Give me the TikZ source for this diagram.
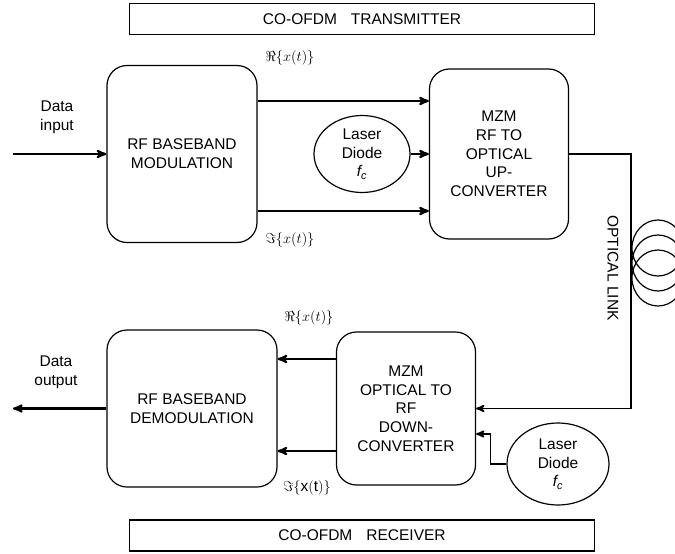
\documentclass[tikz,border=0pt]{standalone}
\usepackage{amsmath}
\usepackage{fontspec}
\setmainfont{Liberation Sans}
\usepackage{tikz}
\usetikzlibrary{arrows,shapes.geometric}
\usetikzlibrary{calc}
\usetikzlibrary{positioning}

\begin{document}
\begin{tikzpicture}[x=1pt,y=-1pt,>=stealth',semithick,font=\fontsize{15.5}{18.7}\selectfont]
 \tikzstyle{block}=[draw=black,line width=1.2pt,rounded corners=20pt,align=center]
 \tikzstyle{laser}=[ellipse,draw=black,line width=1.2pt,align=center,inner sep=0pt]
 \tikzstyle{title}=[draw=black,line width=1.2pt,minimum width=465pt,minimum height=31pt]
 \tikzstyle{signal}=[->,line width=2.2pt]
 \useasboundingbox (0,0) rectangle (675,554);

 % transmitter
 \node[title] (txtitle) at (362,19) {CO-OFDM\hspace{14pt}TRANSMITTER};
 \node[block,minimum width=150pt,minimum height=177pt] (mod) at (182,154) {RF BASEBAND\\MODULATION};
 \node[block,minimum width=139pt,minimum height=170pt] (upconv) [right of=mod, node distance=317pt] {MZM\\RF TO\\OPTICAL\\UP-\\CONVERTER};
 \node[laser,minimum width=96pt,minimum height=77pt] (ld1) [right of=mod, node distance=180pt] {Laser\\Diode\\{\itshape f\textsubscript{c}}};

 % receiver
 \node[block,minimum width=139pt,minimum height=153pt] (downconv) at (406,408.5) {MZM\\OPTICAL TO\\RF\\DOWN-\\CONVERTER};
 \node[block,minimum width=170pt,minimum height=157pt] (demod) [left of=downconv, node distance=214pt] {RF BASEBAND\\DEMODULATION};
 \node[laser,minimum width=102pt,minimum height=82pt] (ld2) at (558,464) {Laser\\Diode\\{\itshape f\textsubscript{c}}};
 \node[title] (rxtitle) at (362,535.5) {CO-OFDM\hspace{14pt}RECEIVER};

 % data in and out
 \coordinate (datain) at (13,154);
 \coordinate (dataout) at (13,408.5);
 \node[align=center] (inlabel) at (57,117) {Data\\input};
 \node[align=center] (outlabel) at (56,372) {Data\\output};
 \draw[signal] (datain) -- (mod);
 \draw[signal] (demod) -- (dataout);

 % I/Q branches
 \draw[signal] ([yshift=53pt]mod.east) -- ([yshift=53pt]mod.east -| upconv.west);
 \draw[signal] ([yshift=-57pt]mod.east) -- ([yshift=-57pt]mod.east -| upconv.west);
 \draw[signal] (ld1) -- (ld1 -| upconv.west);
 \draw[signal] ([yshift=49.5pt]downconv.west) -- ([yshift=49.5pt]downconv.west -| demod.east);
 \draw[signal] ([yshift=-42.5pt]downconv.west) -- ([yshift=-42.5pt]downconv.west -| demod.east);
 \node (retx) at (290,58) {$\Re\{x(t)\}$};
 \node (imtx) at (290,240) {$\Im\{x(t)\}$};
 \node (rerx) at (309,318) {$\Re\{x(t)\}$};
 \node (imrx) at (307,488) {$\Im\{\mathrm{x(t)}\}$};

 % optical link with fibre coil
 \coordinate (bend) at (631,268);
 \draw[->,line width=1.8pt] (upconv.east) -| (bend) |- (downconv.east);
 \draw[->,line width=1.8pt] (ld2.west) -- ++(-16,0) |- ([yshift=-25.5pt]downconv.east);
 \foreach \cy in {248,263,278}
   \draw[line width=1.2pt] (658,\cy) ellipse (26 and 28);
 \node[rotate=-90] (linklabel) at (613,268) {OPTICAL LINK};
\end{tikzpicture}
\end{document}
